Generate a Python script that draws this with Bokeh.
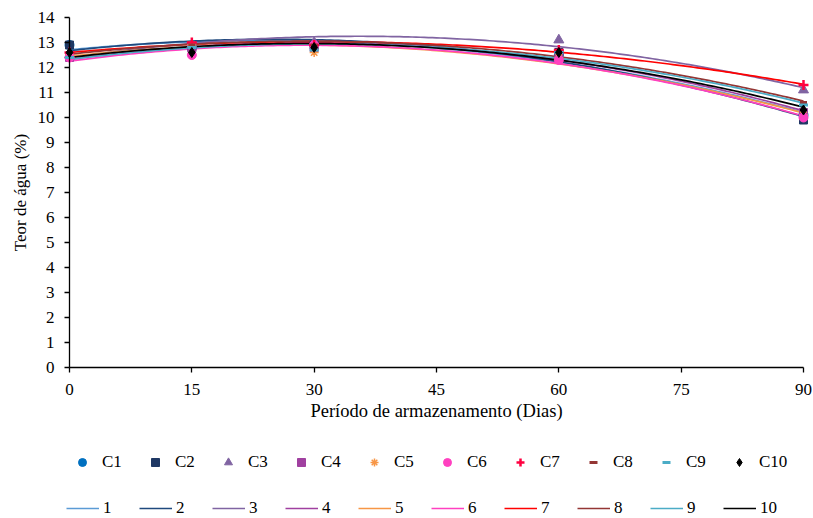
import numpy as np
from bokeh.plotting import figure
from bokeh.models import Legend, LegendItem, FixedTicker, Range1d, Label
from bokeh.embed import file_html
from bokeh.resources import INLINE

days = [0, 15, 30, 60, 90]
series_names = ["C1", "C2", "C3", "C4", "C5", "C6", "C7", "C8", "C9", "C10"]
line_names = ["1", "2", "3", "4", "5", "6", "7", "8", "9", "10"]
values = {
    "C1": [12.9, 12.8, 12.9, 12.5, 10.1],
    "C2": [12.9, 12.8, 12.9, 12.6, 9.9],
    "C3": [12.5, 12.9, 13.0, 13.1, 11.1],
    "C4": [12.4, 12.8, 12.8, 12.5, 10.2],
    "C5": [12.5, 12.9, 12.6, 12.4, 10.1],
    "C6": [12.4, 12.5, 12.9, 12.3, 10.0],
    "C7": [12.6, 13.0, 12.9, 12.7, 11.3],
    "C8": [12.6, 12.9, 12.9, 12.6, 10.6],
    "C9": [12.4, 12.8, 12.7, 12.6, 10.5],
    "C10": [12.6, 12.6, 12.8, 12.6, 10.3],
}
x_ticks = [0, 15, 30, 45, 60, 75, 90]
y_ticks = list(range(0, 15))
x_title = "Período de armazenamento (Dias)"
y_title = "Teor de água (%)"

marker_colors = ["#0070C0", "#1F3864", "#8064A2", "#A040A0", "#F79646",
                 "#FF40C0", "#FF0040", "#943634", "#4BACC6", "#000000"]
markers = ["circle", "square", "triangle", "square", "asterisk",
           "circle", "cross", "dash", "dash", "diamond"]
marker_sizes = [9, 8, 10, 8, 9, 9, 10, 7, 9, 10]
line_colors = ["#5B9BD5", "#1F497D", "#8064A2", "#A040A0", "#F79646",
               "#FF40C0", "#FF0000", "#943634", "#4BACC6", "#000000"]

FONT = "Liberation Serif"

# Axes span x 0..90 (734 px) and y 0..14 (350 px); the frame covers the whole
# canvas so that the axes (fixed at 0) and the two legend rows fit inside it.
PX_X = 734 / 90.0
PX_Y = 350 / 14.0
p = figure(frame_width=813, frame_height=518, output_backend="svg", toolbar_location=None,
           x_range=Range1d(-69 / PX_X, 90 + 10 / PX_X),
           y_range=Range1d(14 + 17 / PX_Y - 518 / PX_Y, 14 + 17 / PX_Y),
           min_border_left=0, min_border_right=0, min_border_top=0, min_border_bottom=0)
p.outline_line_color = None
p.xgrid.visible = False
p.ygrid.visible = False

for ax in (p.xaxis[0], p.yaxis[0]):
    ax.axis_line_color = "black"
    ax.axis_line_width = 1.3
    ax.major_tick_line_color = "black"
    ax.major_tick_line_width = 1.3
    ax.minor_tick_line_color = None
    ax.major_tick_in = 0
    ax.major_tick_out = 5
    ax.major_label_text_font = FONT
    ax.major_label_text_font_size = "17px"
    ax.major_label_text_color = "black"
    ax.axis_label_text_font = FONT
    ax.axis_label_text_font_style = "normal"
    ax.axis_label_text_color = "black"

p.xaxis.ticker = FixedTicker(ticks=x_ticks)
p.yaxis.ticker = FixedTicker(ticks=y_ticks)
p.xaxis.bounds = (0, 90)
p.yaxis.bounds = (0, 14)
p.xaxis.fixed_location = 0
p.yaxis.fixed_location = 0
p.xaxis.axis_label = x_title
p.xaxis.axis_label_text_font_size = "18.5px"
p.xaxis.major_label_standoff = 11
p.yaxis.major_label_standoff = 10
p.xaxis.axis_label_standoff = 3

# y-axis title, centred on the 0..14 span of the axis
p.add_layout(Label(x=20, y=7, x_units="screen", y_units="data", text=y_title,
                   angle=np.pi / 2, text_align="center", text_baseline="middle",
                   text_font=FONT, text_font_size="17px", text_color="black"))

xs = np.linspace(0, 90, 181)
marker_items = []
line_items = []
for i, name in enumerate(series_names):
    ys = values[name]
    coef = np.polyfit(days, ys, 2)
    yfit = np.polyval(coef, xs)
    r_line = p.line(xs, yfit, line_color=line_colors[i], line_width=1.7)
    line_items.append(LegendItem(label=line_names[i], renderers=[r_line]))

for i, name in enumerate(series_names):
    ys = values[name]
    lw = {"cross": 2.5, "dash": 3, "asterisk": 1.5}.get(markers[i], 1)
    r_pt = p.scatter(days, ys, marker=markers[i], size=marker_sizes[i],
                     fill_color=marker_colors[i], line_color=marker_colors[i],
                     line_width=lw)
    marker_items.append(LegendItem(label=name, renderers=[r_pt]))

def make_legend(items, glyph_w, standoff, label_w, spacing, loc):
    lg = Legend(items=items, orientation="horizontal")
    lg.glyph_width = glyph_w
    lg.glyph_height = 20
    lg.label_standoff = standoff
    lg.label_width = label_w
    lg.label_height = 20
    lg.spacing = spacing
    lg.label_text_font = FONT
    lg.label_text_font_size = "17px"
    lg.label_text_color = "black"
    lg.border_line_color = None
    lg.background_fill_alpha = 0
    lg.padding = 0
    lg.margin = 0
    lg.location = loc
    return lg

leg1 = make_legend(marker_items, 20, 10, 43, 0, (72, 46))
leg2 = make_legend(line_items, 33, 4, 36, 0, (66, 0))
p.add_layout(leg1)
p.add_layout(leg2)

open("out.html", "w").write(file_html(p, INLINE))
